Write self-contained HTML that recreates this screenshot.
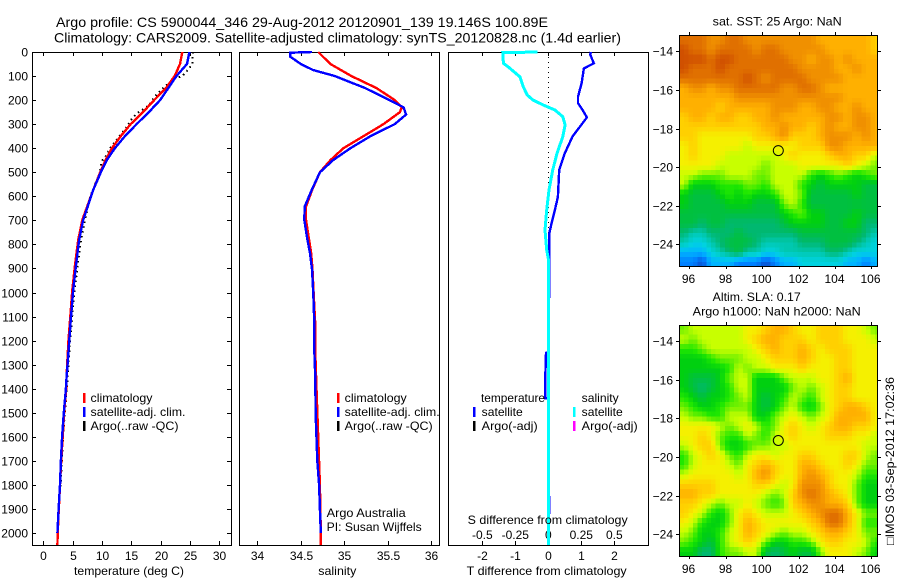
<!DOCTYPE html>
<html><head><meta charset="utf-8"><title>Argo profile</title>
<style>html,body{margin:0;padding:0;background:#fff;width:900px;height:580px;overflow:hidden}svg{display:block}text{font-family:"Liberation Sans",sans-serif;fill:#000}</style>
</head><body>
<svg id="fig" xmlns="http://www.w3.org/2000/svg" width="900" height="580" viewBox="0 0 900 580"></svg>
<script>
// ---- chart data ----
const depthTicks=[0,100,200,300,400,500,600,700,800,900,1000,1100,1200,1300,1400,1500,1600,1700,1800,1900,2000];
const tempTicks=[0,5,10,15,20,25,30];
const salTicks=[34,34.5,35,35.5,36];
const tDiffTicks=[-2,-1,0,1,2];
const sDiffTicks=[-0.5,-0.25,0,0.25,0.5];
const lonTicks=[96,98,100,102,104,106];
const latTicks=[-14,-16,-18,-20,-22,-24];

const tempDepths=[0,50,100,150,200,250,300,350,400,450,500,574,698,782,886,990,1100,1197,1281,1356,1400,1500,1600,1700,1800,1900,2000,2050];
const tempClim=[23.7,23.3,22.4,20.9,18.9,17.0,14.9,13.2,11.7,10.6,9.7,8.5,6.65,5.95,5.4,4.95,4.6,4.3,4.1,3.95,3.9,3.55,3.3,3.05,2.85,2.65,2.45,2.4];
const tempSat=[24.9,24.5,22.7,21.3,19.9,18.0,15.9,13.9,12.2,10.8,9.8,8.5,6.8,6.1,5.57,5.1,4.72,4.43,4.2,3.95,3.85,3.5,3.2,3.0,2.85,2.6,2.4];
const argoDepths=[0,50,73,98,115,150,184,223,247,265,284,306,327,346,369,389,431,455,510,538,572,600,700,800,900,1000,1200,1400,1600,1800,1850];
const tempArgo=[25.5,25.4,24.7,23.8,22.1,20.45,19.04,18.0,16.4,15.6,14.9,14.4,13.75,13.1,12.4,11.65,10.7,9.95,9.55,9.0,8.5,8.0,7.1,6.3,5.8,5.3,4.55,4.0,3.35,2.95,2.7];

const salDepths=[0,50,100,150,200,230,250,300,350,400,450,500,574,643,698,768,837,906,1017,1128,1239,1400,1600,1800,2000,2050];
const salClim=[34.70,34.84,35.08,35.37,35.58,35.66,35.64,35.45,35.22,34.99,34.84,34.72,34.63,34.56,34.56,34.59,34.62,34.635,34.65,34.665,34.665,34.68,34.70,34.72,34.73,34.73];
const salSatDepths=[0,3,20,50,75,100,150,200,230,260,300,350,400,450,500,574,643,698,768,837,906,1017,1128,1239,1356,1500,1700,1800,1900,2000];
const salSat=[34.63,34.38,34.38,34.5,34.64,34.89,35.24,35.52,35.68,35.71,35.58,35.3,35.07,34.87,34.72,34.625,34.545,34.54,34.57,34.606,34.63,34.645,34.655,34.655,34.667,34.67,34.69,34.71,34.72,34.73];

const tDiffDepths=[0,10,47,68,130,186,213,241,272,310,352,421,491,602,657,712,754,906,1050,1250,1251,1350,1440,1441,1850,1851,1920];
const tDiff=[1.29,1.27,1.38,1.08,1.01,0.9,0.9,1.04,1.17,0.96,0.73,0.5,0.33,0.29,0.2,0.1,0.03,0.03,0.02,0,-0.07,-0.09,-0.09,0,0,0.03,0.03];
const sDiffDepths=[0,3,47,61,103,144,179,200,220,241,269,303,352,421,491,574,657,740,823,860,1200,2050];
const sDiff=[-0.08,-0.345,-0.34,-0.305,-0.215,-0.19,-0.16,-0.115,-0.04,0.05,0.11,0.127,0.11,0.066,0.033,0.005,-0.012,-0.025,-0.012,0,0,0];

const heatColors=["#0a50d0","#0080ff","#00b4ff","#00d2e0","#00c8b0","#00b870","#00c040","#00d010","#20e800","#70f000","#c8ff00","#f5f000","#ffd000","#ffb000","#f09000","#e07000","#d05000"];
const sstGrid=[
[15,15,15,14,14,15,15,14,14,14,14,14,14,14,14,13,13,13,13,13,13,12],
[16,15,15,14,15,15,15,15,14,15,15,14,14,14,14,14,13,13,13,13,13,12],
[16,16,16,15,16,16,15,15,15,15,15,15,14,14,13,14,14,13,14,13,13,13],
[16,15,15,15,16,15,15,15,15,15,15,15,15,14,14,14,14,13,13,14,13,13],
[15,15,15,15,15,15,15,16,15,14,15,15,15,15,14,14,14,14,13,13,13,13],
[13,14,14,13,14,14,15,15,15,15,15,14,14,15,15,14,13,13,13,13,13,13],
[13,13,13,13,13,13,14,14,14,14,14,14,14,14,14,14,14,14,13,13,13,13],
[13,13,13,13,12,13,13,13,13,13,14,14,14,13,13,14,14,13,13,14,13,13],
[12,13,13,12,13,13,12,12,13,13,14,13,13,13,13,13,14,14,13,14,14,13],
[12,12,12,12,12,12,12,12,12,13,13,14,13,13,12,13,14,13,13,14,14,13],
[12,12,11,11,11,11,11,11,12,12,13,14,12,12,12,13,14,14,14,13,14,13],
[11,12,11,11,11,11,11,10,11,11,11,11,11,12,12,12,14,14,13,13,13,13],
[11,12,11,11,11,10,10,10,10,10,10,11,12,11,11,11,12,13,13,12,12,10],
[11,11,11,11,10,10,10,10,10,9,10,10,10,11,11,11,11,11,12,11,10,9],
[10,10,9,9,9,10,10,10,9,9,10,10,10,10,8,7,8,9,8,7,8,9],
[10,7,7,7,8,8,8,9,9,8,10,10,10,8,7,6,7,7,7,7,6,6],
[7,6,6,6,7,8,7,8,7,7,8,10,10,9,6,6,6,6,6,7,6,6],
[7,6,6,6,6,7,7,7,6,6,6,9,10,8,6,6,6,6,6,6,6,6],
[6,6,6,6,6,6,6,6,6,6,6,7,8,9,7,7,6,6,6,7,6,6],
[6,6,5,6,6,5,5,5,5,5,5,6,7,7,7,7,6,6,7,7,5,5],
[5,4,4,5,5,5,6,5,5,5,5,5,5,6,6,6,6,6,6,6,5,4],
[4,3,3,4,5,6,6,6,5,4,4,4,4,5,5,5,6,6,6,5,4,3],
[2,2,2,3,4,5,6,4,4,3,3,4,4,4,4,4,5,5,4,3,3,3],
[1,1,0,2,2,2,1,1,1,0,1,2,2,3,3,3,3,3,2,2,1,2]];
const slaGrid=[
[9,10,10,10,10,10,10,11,11,12,13,13,12,11,11,12,12,12,11,11,10,9],
[10,9,10,10,10,10,10,11,12,13,13,12,12,12,11,12,12,12,11,11,11,10],
[8,8,9,10,10,10,10,10,11,12,13,12,12,13,12,11,12,12,12,11,11,11],
[7,7,7,8,9,9,9,10,10,11,12,12,12,13,12,11,11,12,12,11,11,11],
[7,7,7,7,7,8,10,9,10,10,11,11,11,12,11,11,11,12,12,11,11,11],
[7,6,6,6,7,9,10,10,7,7,7,9,10,10,10,11,11,12,13,11,11,11],
[7,6,5,6,7,8,10,10,7,7,7,7,9,10,9,10,11,12,12,11,11,11],
[8,7,6,7,7,8,9,10,7,6,7,8,10,9,8,10,11,12,12,11,11,11],
[9,8,7,7,8,9,9,9,7,6,7,9,10,8,7,9,11,12,13,13,12,11],
[10,9,9,8,8,10,10,10,7,7,9,10,11,10,9,10,11,13,13,13,13,11],
[11,11,11,11,10,9,10,11,10,8,9,11,12,11,10,11,12,13,13,12,12,11],
[11,11,12,11,9,8,8,10,9,8,10,11,12,11,11,11,12,12,12,11,11,10],
[10,11,12,12,9,7,7,8,9,9,10,10,11,11,11,11,11,11,11,11,10,10],
[8,10,11,12,11,9,8,10,11,11,10,11,11,12,12,11,11,11,12,12,10,9],
[8,10,11,11,11,10,9,11,12,13,12,11,11,13,13,12,11,11,12,11,9,9],
[10,11,11,11,11,11,10,11,13,14,12,11,11,13,14,13,12,11,11,10,8,8],
[12,12,12,12,11,11,11,11,12,12,11,10,11,14,14,14,12,11,11,9,7,7],
[13,13,12,12,11,11,11,11,11,10,9,10,12,14,15,14,13,12,11,9,7,7],
[12,12,11,10,9,10,10,11,10,9,8,9,12,13,14,14,13,13,12,9,7,7],
[12,11,10,8,7,9,11,12,11,10,10,10,11,12,13,14,15,15,13,11,9,9],
[11,10,8,7,7,9,11,13,12,11,11,11,11,11,12,13,15,15,13,11,8,8],
[10,9,7,7,8,10,11,13,12,11,10,9,10,10,11,12,13,13,12,11,9,9],
[9,8,7,6,8,10,11,12,11,9,7,7,8,8,9,11,12,12,11,11,10,8],
[7,7,5,5,8,9,9,10,10,6,5,6,7,6,6,9,11,11,11,10,9,7]];
const floatLon=100.89;
const floatLat=-19.146;

// ---- drawing ----
const svg=document.getElementById('fig');
const NS='http://www.w3.org/2000/svg';
function mk(tag,attrs){const e=document.createElementNS(NS,tag);for(const k in attrs)e.setAttribute(k,attrs[k]);svg.appendChild(e);return e;}
function txt(s,x,cy,anchor,len,size){
  const a={x:x,y:cy+4,'text-anchor':anchor||'start','font-size':size||12};
  if(len){a.textLength=len;a.lengthAdjust='spacingAndGlyphs';}
  const e=mk('text',a);e.textContent=s;return e;
}
const yD=d=>52+d*0.2405;
const xT=v=>43.3+v*5.867;
const xS=v=>257.3+(v-34)*87;
const xTD=v=>548.3+v*33;
const xSD=v=>548.3+v*132;
function series(xs,ds,fx,color,w,dash){
  const pts=xs.map((v,i)=>fx(v).toFixed(1)+','+yD(ds[i]).toFixed(1)).join(' ');
  const a={points:pts,fill:'none',stroke:color,'stroke-width':w,'shape-rendering':'crispEdges'};
  if(dash){a['stroke-dasharray']=dash;}
  return mk('polyline',a);
}
function tick(x1,y1,x2,y2){
  const e=mk('line',{x1:x1,y1:y1,x2:x2,y2:y2,stroke:'#000','stroke-width':1,'shape-rendering':'crispEdges'});
  
  
}
function frame(l,t,r,b,name){
  const e=mk('rect',{x:l+.5,y:t+.5,width:r-l,height:b-t,fill:'none',stroke:'#000','stroke-width':1,'shape-rendering':'crispEdges'});
  
  
}
function tag(e,name){
  
  
}
function swatch(x,cy,color,name){
  const e=mk('rect',{x:x-1,y:cy-5,width:2.5,height:10,fill:color,'shape-rendering':'crispEdges'});
  
  
}

// titles
tag(txt('Argo profile: CS 5900044_346 29-Aug-2012 20120901_139 19.146S 100.89E',56,23,'start',492,14),'title-line-1');
tag(txt('Climatology: CARS2009. Satellite-adjusted climatology: synTS_20120828.nc (1.4d earlier)',54,38.5,'start',567,14),'title-line-2');

// panel frames
frame(32,52,231,545,'temperature-panel');
frame(239,52,439,545,'salinity-panel');
frame(448,52,648,545,'difference-panel');

// depth ticks and labels
depthTicks.forEach(d=>{
  const y=Math.round(yD(d))+.5;
  tick(32,y,36,y);
  tick(227,y,231,y);
  tag(txt(String(d),28,y,'end'),'depth-tick-label');
});
tempTicks.forEach(v=>{
  const x=Math.round(xT(v))+.5;
  tick(x,52,x,56);
  tick(x,541,x,545);
  tag(txt(String(v),x,556,'middle'),'temperature-tick-label');
});
salTicks.forEach(v=>{
  const x=Math.round(xS(v))+.5;
  tick(x,52,x,56);
  tick(x,541,x,545);
  tag(txt(String(v),x,556,'middle'),'salinity-tick-label');
});
tDiffTicks.forEach(v=>{
  const x=Math.round(xTD(v))+.5;
  tick(x,52,x,56);
  tick(x,541,x,545);
  tag(txt(String(v),x,556,'middle'),'t-difference-tick-label');
});
sDiffTicks.forEach(v=>{
  tag(txt(String(v),xSD(v),535,'middle'),'s-difference-tick-label');
});

// temperature series
tag(series(tempArgo,argoDepths,xT,'#000',2,'1.5 3.5'),'argo-temperature-line');
tag(series(tempClim,tempDepths,xT,'#ff0000',2.4),'climatology-temperature-line');
tag(series(tempSat,tempDepths.slice(0,tempSat.length),xT,'#0000ff',2.4),'satellite-temperature-line');

// salinity series
tag(series(salClim,salDepths,xS,'#ff0000',2.4),'climatology-salinity-line');
tag(series(salSat,salSatDepths,xS,'#0000ff',2.4),'satellite-salinity-line');

// differences
const zero=mk('line',{x1:548.5,y1:52,x2:548.5,y2:545,stroke:'#000','stroke-width':1,'stroke-dasharray':'1 4'});


tag(series(tDiff,tDiffDepths,xTD,'#0000ff',2.4),'temperature-difference-line');
tag(series(sDiff,sDiffDepths,xSD,'#00ffff',3),'salinity-difference-line');

// legends
const legendY=[398,412,426];
swatch(84,legendY[0],'#ff0000','legend-swatch-climatology');
swatch(84,legendY[1],'#0000ff','legend-swatch-satellite');
swatch(84,legendY[2],'#000','legend-swatch-argo');
tag(txt('climatology',90.5,legendY[0],'start',62),'legend-climatology');
tag(txt('satellite-adj. clim.',90.5,legendY[1],'start',95),'legend-satellite');
tag(txt('Argo(..raw -QC)',90.5,legendY[2],'start',88),'legend-argo');
swatch(338,legendY[0],'#ff0000','legend-swatch-climatology');
swatch(338,legendY[1],'#0000ff','legend-swatch-satellite');
swatch(338,legendY[2],'#000','legend-swatch-argo');
tag(txt('climatology',344.7,legendY[0],'start',62),'legend-climatology');
tag(txt('satellite-adj. clim.',344.7,legendY[1],'start',95),'legend-satellite');
tag(txt('Argo(..raw -QC)',344.7,legendY[2],'start',88),'legend-argo');
tag(txt('temperature',481,legendY[0],'start',64),'legend-temperature-heading');
swatch(474,legendY[1],'#0000ff','legend-swatch-t-satellite');
swatch(474,legendY[2],'#000','legend-swatch-t-argo');
tag(txt('satellite',481.7,legendY[1],'start',41),'legend-t-satellite');
tag(txt('Argo(-adj)',481.7,legendY[2],'start',56),'legend-t-argo');
tag(txt('salinity',581.7,legendY[0],'start',37),'legend-salinity-heading');
swatch(574,legendY[1],'#00ffff','legend-swatch-s-satellite');
swatch(574,legendY[2],'#ff00ff','legend-swatch-s-argo');
tag(txt('satellite',581.7,legendY[1],'start',41),'legend-s-satellite');
tag(txt('Argo(-adj)',581.7,legendY[2],'start',56),'legend-s-argo');

// annotations and axis titles
tag(txt('Argo Australia',326.7,513,'start',79),'operator-note');
tag(txt('PI: Susan Wijffels',326.7,527,'start',95),'pi-note');
tag(txt('S difference from climatology',467.7,520,'start',160),'s-difference-axis-title');
tag(txt('T difference from climatology',466.7,571,'start',160),'t-difference-axis-title');
tag(txt('temperature (deg C)',74,571,'start',110),'temperature-axis-title');
tag(txt('salinity',318.3,571,'start',38),'salinity-axis-title');

// maps: each grid value sits at a 0.5 deg cell centre, painted on the
// reference's 0.25 deg pixel size with bilinear blending between values
function hexRGB(h){return [1,3,5].map(i=>parseInt(h.substr(i,2),16));}
function levelColor(v){
  const i=Math.max(0,Math.min(heatColors.length-2,Math.floor(v)));
  const f=Math.max(0,Math.min(1,v-i));
  const a=hexRGB(heatColors[i]),b=hexRGB(heatColors[i+1]);
  return 'rgb('+a.map((c,k)=>Math.round(c+(b[k]-c)*f)).join(',')+')';
}
function sample(grid,r,c){
  const R=grid.length-1,C=grid[0].length-1;
  const r0=Math.max(0,Math.min(R,Math.floor(r))),r1=Math.min(R,r0+1);
  const c0=Math.max(0,Math.min(C,Math.floor(c))),c1=Math.min(C,c0+1);
  const fr=Math.max(0,Math.min(1,r-r0)),fc=Math.max(0,Math.min(1,c-c0));
  return (grid[r0][c0]*(1-fc)+grid[r0][c1]*fc)*(1-fr)+(grid[r1][c0]*(1-fc)+grid[r1][c1]*fc)*fr;
}
function drawMap(grid,top,bottom,lat14,lat24,name){
  const xL=v=>689.3+(v-96)*18.2;
  const yL=v=>lat14+(-14-v)*(lat24-lat14)/10;
  const lon0=95.45,lat0=-13.16,step=0.25;
  const rows=grid.length*2,cols=grid[0].length*2;
  for(let r=0;r<rows;r++){
    for(let c=0;c<cols;c++){
      const x0=Math.max(680,xL(lon0+c*step)),x1=Math.min(877,xL(lon0+(c+1)*step));
      const y0=Math.max(top+1,yL(lat0-r*step)),y1=Math.min(bottom,yL(lat0-(r+1)*step));
      if(x1<=x0||y1<=y0)continue;
      const v=sample(grid,(r-0.5)/2,(c-0.5)/2);
      const e=mk('rect',{x:x0.toFixed(1),y:y0.toFixed(1),width:(x1-x0+.6).toFixed(1),height:(y1-y0+.6).toFixed(1),fill:levelColor(v),'shape-rendering':'crispEdges'});
      
      
    }
  }
  frame(679,top,877,bottom,name);
  lonTicks.forEach(v=>{
    const x=Math.round(xL(v))+.5;
    tick(x,top-3,x,top);
    tick(x,bottom,x,bottom+3);
    tag(txt(String(v),x-1,bottom+13,'middle'),'longitude-tick-label');
  });
  latTicks.forEach(v=>{
    const y=Math.round(yL(v))+.5;
    tick(676,y,679,y);
    tick(878,y,881,y);
    tag(txt('\u2212'+Math.abs(v),673,y,'end'),'latitude-tick-label');
  });
  const c=mk('circle',{cx:xL(floatLon).toFixed(1),cy:yL(floatLat).toFixed(1),r:5,fill:'none',stroke:'#000','stroke-width':1});
  
  
}
drawMap(sstGrid,35,266,51.3,244.3,'sst-map');
drawMap(slaGrid,325,556,341,534.3,'sla-map');
tag(txt('sat. SST: 25 Argo: NaN',712.7,21.5,'start',129),'sst-map-title');
tag(txt('Altim. SLA: 0.17',712.7,297,'start',88),'sla-map-title');
tag(txt('Argo h1000: NaN h2000: NaN',692.7,311.5,'start',168),'sla-map-subtitle');

// timestamp
const stamp=mk('text',{x:0,y:0,transform:'translate(894,545) rotate(-90)','font-size':12,textLength:168,lengthAdjust:'spacingAndGlyphs'});
stamp.textContent='\u25A1IMOS 03-Sep-2012 17:02:36';


</script>
</body></html>
